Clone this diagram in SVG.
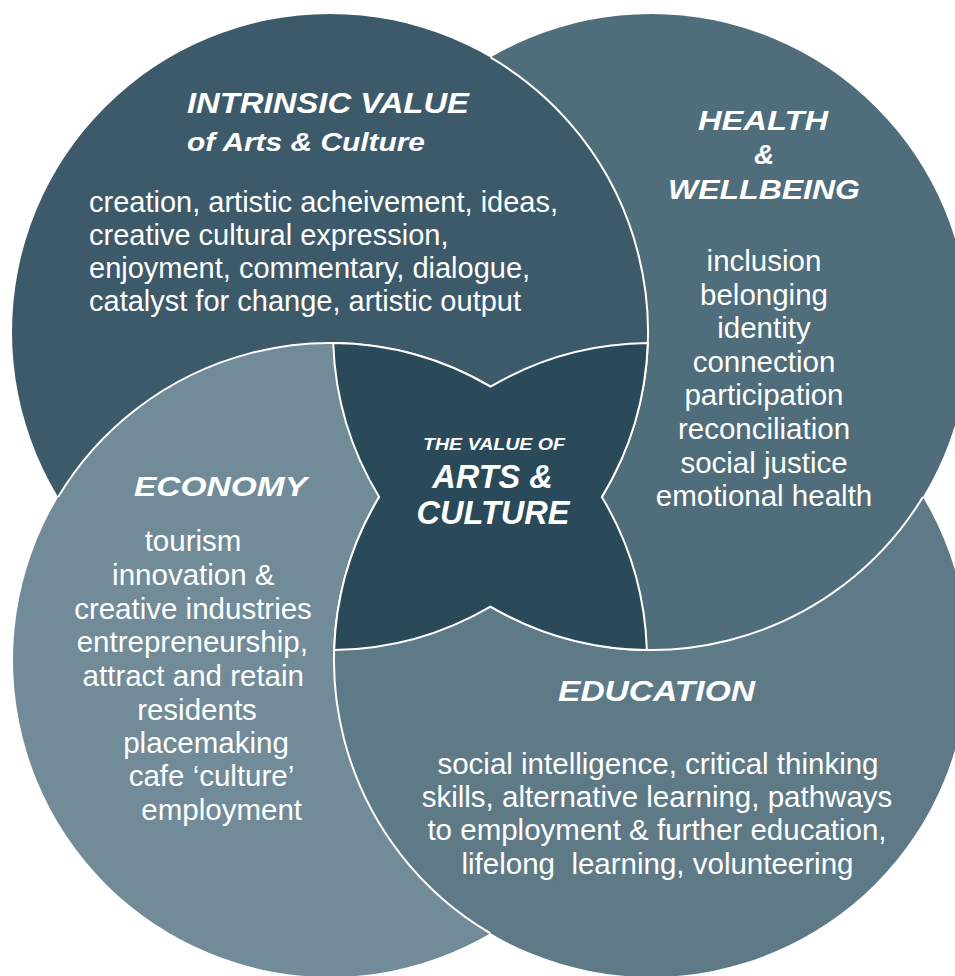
<svg xmlns="http://www.w3.org/2000/svg" width="955" height="976" viewBox="0 0 955 976">
  <style>
    .t { font-family: "Liberation Sans", Arial, Helvetica, sans-serif; fill: #ffffff; }
    .ttl { font-weight: bold; font-style: italic; }
    .body { font-size: 29.5px; }
    .mid { text-anchor: middle; }
    .edge { fill: none; stroke: #ffffff; stroke-width: 2; }
  </style>
  <defs>
    <circle id="c-tl" cx="330" cy="332" r="318"/>
    <circle id="c-tr" cx="651" cy="332" r="318"/>
    <circle id="c-bl" cx="330" cy="660" r="317"/>
    <circle id="c-br" cx="651" cy="660" r="317"/>
    <clipPath id="clip-tl"><circle cx="330" cy="332" r="319.2"/></clipPath>
    <clipPath id="clip-bl"><circle cx="330" cy="660" r="318.2"/></clipPath>
  </defs>
  <rect width="955" height="976" fill="#ffffff"/>

  <!-- circle fills, layered as a pinwheel -->
  <g id="circle-shapes">
    <use id="shape-education" href="#c-br" fill="#5f7a87"/>
    <use id="shape-health" href="#c-tr" fill="#4f6d7a"/>
    <use id="shape-economy" href="#c-bl" fill="#718c98"/>
    <use id="shape-intrinsic" href="#c-tl" fill="#3d5a6a"/>
    <use href="#c-bl" fill="#718c98" clip-path="url(#clip-tl)"/>
    <use href="#c-br" fill="#5f7a87" clip-path="url(#clip-bl)"/>
  </g>

  <!-- white boundary arcs -->
  <g id="connectors">
    <path class="edge" d="M 490.5 57.48 A 318 318 0 0 1 601.86 496.97"/>
    <path class="edge" d="M 58.14 496.97 A 317 317 0 0 1 490.5 386.64"/>
    <path class="edge" d="M 490.5 933.36 A 317 317 0 0 1 379.14 496.97"/>
    <path class="edge" d="M 922.86 496.97 A 318 318 0 0 1 490.5 606.52"/>
  </g>

  <g id="node-center">
    <path d="M 333.19 343.01 A 317 317 0 0 1 490.5 386.64 A 317 317 0 0 1 647.81 343.01 A 318 318 0 0 1 601.86 496.97 A 317 317 0 0 1 646.85 649.97 A 318 318 0 0 1 490.5 606.52 A 318 318 0 0 1 334.15 649.97 A 317 317 0 0 1 379.14 496.97 A 318 318 0 0 1 333.19 343.01 Z" fill="#2a4a5a" stroke="#ffffff" stroke-width="2"/>
    <text class="t ttl mid" x="494" y="450" font-size="16" textLength="142" lengthAdjust="spacingAndGlyphs">THE VALUE OF</text>
    <text class="t ttl mid" x="492.5" y="488" font-size="32.5">ARTS &amp;</text>
    <text class="t ttl mid" x="493" y="524" font-size="32.5">CULTURE</text>
  </g>

  <g id="node-intrinsic">
    <text class="t ttl" x="187" y="113" font-size="29" textLength="282" lengthAdjust="spacingAndGlyphs">INTRINSIC VALUE</text>
    <text class="t ttl" x="187" y="151" font-size="26" textLength="238" lengthAdjust="spacingAndGlyphs">of Arts &amp; Culture</text>
    <text class="t" x="89" y="212" font-size="29">creation, artistic acheivement, ideas,</text>
    <text class="t" x="89" y="245" font-size="29">creative cultural expression,</text>
    <text class="t" x="89" y="278" font-size="29">enjoyment, commentary, dialogue,</text>
    <text class="t" x="89" y="311" font-size="29">catalyst for change, artistic output</text>
  </g>

  <g id="node-health">
    <text class="t ttl mid" x="763" y="130" font-size="28" textLength="130" lengthAdjust="spacingAndGlyphs">HEALTH</text>
    <text class="t ttl mid" x="764" y="164" font-size="28">&amp;</text>
    <text class="t ttl mid" x="764" y="199" font-size="28" textLength="192" lengthAdjust="spacingAndGlyphs">WELLBEING</text>
    <text class="t body mid" x="764" y="271">inclusion</text>
    <text class="t body mid" x="764" y="304.6">belonging</text>
    <text class="t body mid" x="764" y="338.2">identity</text>
    <text class="t body mid" x="764" y="371.8">connection</text>
    <text class="t body mid" x="764" y="405.4">participation</text>
    <text class="t body mid" x="764" y="439">reconciliation</text>
    <text class="t body mid" x="764" y="472.6">social justice</text>
    <text class="t body mid" x="764" y="506.2">emotional health</text>
  </g>

  <g id="node-economy">
    <text class="t ttl" x="134" y="496" font-size="28" textLength="173" lengthAdjust="spacingAndGlyphs">ECONOMY</text>
    <text class="t body mid" x="193" y="551">tourism</text>
    <text class="t body mid" x="193.3" y="585">innovation &amp;</text>
    <text class="t body mid" x="193" y="618.5">creative industries</text>
    <text class="t body mid" x="192.3" y="652">entrepreneurship,</text>
    <text class="t body mid" x="193.3" y="686">attract and retain</text>
    <text class="t body mid" x="197" y="719.5">residents</text>
    <text class="t body mid" x="206" y="753">placemaking</text>
    <text class="t body mid" x="211.5" y="786">cafe ‘culture’</text>
    <text class="t body mid" x="221.7" y="820">employment</text>
  </g>

  <g id="node-education">
    <text class="t ttl" x="558" y="701" font-size="29" textLength="197" lengthAdjust="spacingAndGlyphs">EDUCATION</text>
    <text class="t body mid" x="658" y="773.5">social intelligence, critical thinking</text>
    <text class="t body mid" x="657" y="807">skills, alternative learning, pathways</text>
    <text class="t body mid" x="657" y="840">to employment &amp; further education,</text>
    <text class="t body mid" x="657.5" y="873.5">lifelong&#160; learning, volunteering</text>
  </g>
</svg>
